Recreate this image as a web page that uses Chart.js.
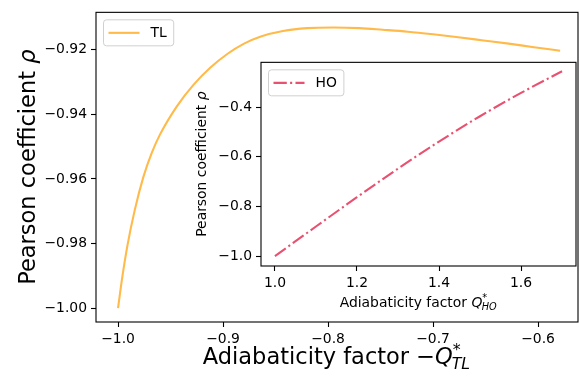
<!DOCTYPE html>
<html>
<head>
<meta charset="utf-8">
<script src="https://cdn.jsdelivr.net/npm/chart.js@4/dist/chart.umd.min.js"></script>
<style>
  html, body { margin: 0; padding: 0; background: #fff; }
  #wrap { position: relative; width: 579px; height: 381px; }
  #main { position: absolute; left: 0; top: 0; }
  #inset { position: absolute; left: 185px; top: 50px; }
</style>
</head>
<body>
<div id="wrap">
  <canvas id="main" width="579" height="381"></canvas>
  <canvas id="inset" width="394" height="265"></canvas>
</div>
<script>
// TL curve (main axes)
var tlX = [-1.0, -0.996, -0.991, -0.984, -0.976, -0.968, -0.960, -0.944, -0.928, -0.912, -0.896,
           -0.880, -0.864, -0.843, -0.820, -0.795, -0.770, -0.748, -0.724, -0.700, -0.676, -0.652,
           -0.628, -0.604, -0.579];
var tlY = [-1.0, -0.9905, -0.9805, -0.9695, -0.9595, -0.9520, -0.9462, -0.9375, -0.9308, -0.9255, -0.9213,
           -0.9181, -0.9159, -0.9142, -0.9133, -0.9131, -0.9133, -0.9138, -0.9144, -0.9152, -0.9161, -0.9171,
           -0.9181, -0.9192, -0.9203];
var mainXTicks = [-1.0, -0.9, -0.8, -0.7, -0.6];
var mainYTicks = [-1.00, -0.98, -0.96, -0.94, -0.92];

// HO curve (inset)
var hoX = [1.0, 1.1, 1.2, 1.3, 1.4, 1.5, 1.6, 1.7];
var hoY = [-1.0, -0.881, -0.763, -0.648, -0.539, -0.437, -0.343, -0.256];
var insetXTicks = [1.0, 1.2, 1.4, 1.6];
var insetYTicks = [-1.0, -0.8, -0.6, -0.4];

var FONT = "'DejaVu Sans', sans-serif";
Chart.defaults.font.family = FONT;
Chart.defaults.color = '#000';

function fmt(digits) {
    return function (v) {
        return (v < 0 ? '\u2212' : '') + Math.abs(v).toFixed(digits);
    };
}

/**
 * Measures and draws a title made of pieces, some italic, one may carry sup/sub
 */
function pieceWidth(ctx, p, size) {
    if (p.sup !== undefined) {
        ctx.font = (size * 0.7) + 'px ' + FONT;
        var a = ctx.measureText(p.sup).width;
        ctx.font = 'italic ' + (size * 0.7) + 'px ' + FONT;
        var b = ctx.measureText(p.sub).width;
        return Math.max(a, b);
    }
    ctx.font = (p.italic ? 'italic ' : '') + size + 'px ' + FONT;
    return ctx.measureText(p.t).width;
}

function drawPieces(ctx, parts, size, x, y) {
    ctx.textBaseline = 'alphabetic';
    ctx.textAlign = 'left';
    ctx.fillStyle = '#000';
    for (var p of parts) {
        var w = pieceWidth(ctx, p, size);
        if (p.sup !== undefined) {
            ctx.font = (size * 0.7) + 'px ' + FONT;
            ctx.fillText(p.sup, x, y - size * 0.42);
            ctx.font = 'italic ' + (size * 0.7) + 'px ' + FONT;
            ctx.fillText(p.sub, x - size * 0.05, y + size * 0.22);
        } else {
            ctx.font = (p.italic ? 'italic ' : '') + size + 'px ' + FONT;
            ctx.fillText(p.t, x, y);
        }
        x += w;
    }
}

var mathTitles = {
    id: 'mathTitles',
    afterDraw(chart, args, opts) {
        var ctx = chart.ctx, area = chart.chartArea;
        ctx.save();
        if (opts.x) {
            var total = 0;
            for (var p of opts.x.parts) total += pieceWidth(ctx, p, opts.x.size);
            var cx = (area.left + area.right) / 2;
            drawPieces(ctx, opts.x.parts, opts.x.size, cx - total / 2, opts.x.baseline);
        }
        if (opts.y) {
            var totalY = 0;
            for (var q of opts.y.parts) totalY += pieceWidth(ctx, q, opts.y.size);
            var cy = (area.top + area.bottom) / 2;
            ctx.translate(opts.y.baseline, cy);
            ctx.rotate(-Math.PI / 2);
            drawPieces(ctx, opts.y.parts, opts.y.size, -totalY / 2, 0);
        }
        ctx.restore();
    }
};

// white face, four spines and an in-axes legend box like matplotlib
var frame = {
    id: 'frame',
    beforeDatasetsDraw(chart) {
        var ctx = chart.ctx, a = chart.chartArea;
        ctx.save();
        ctx.fillStyle = '#fff';
        ctx.fillRect(a.left, a.top, a.right - a.left, a.bottom - a.top);
        ctx.restore();
    },
    afterDatasetsDraw(chart) {
        var ctx = chart.ctx, a = chart.chartArea;
        ctx.save();
        ctx.strokeStyle = '#000';
        ctx.lineWidth = 1.1;
        ctx.strokeRect(a.left, a.top, a.right - a.left, a.bottom - a.top);

        var ds = chart.data.datasets[0];
        var size = 13.9;
        ctx.font = size + 'px ' + FONT;
        var tw = ctx.measureText(ds.label).width;
        var x0 = a.left + 7.5, y0 = a.top + 7.5, w = 48 + tw + 6, h = 26;
        ctx.beginPath();
        ctx.roundRect(x0, y0, w, h, 3);
        ctx.fillStyle = 'rgba(255,255,255,0.8)';
        ctx.fill();
        ctx.strokeStyle = '#d0d0d0';
        ctx.lineWidth = 1;
        ctx.stroke();

        ctx.beginPath();
        ctx.setLineDash(ds.borderDash || []);
        ctx.strokeStyle = ds.borderColor;
        ctx.lineWidth = ds.borderWidth;
        ctx.moveTo(x0 + 5, y0 + h / 2);
        ctx.lineTo(x0 + 36, y0 + h / 2);
        ctx.stroke();
        ctx.setLineDash([]);

        ctx.fillStyle = '#000';
        ctx.textBaseline = 'middle';
        ctx.fillText(ds.label, x0 + 47, y0 + h / 2 + 1);
        ctx.restore();
    }
};

function axisOpts(min, max, tickVals, digits, fixFn) {
    return {
        type: 'linear',
        min: min,
        max: max,
        afterBuildTicks: function (scale) {
            scale.ticks = tickVals.map(v => ({ value: v }));
        },
        afterFit: fixFn,
        border: { display: false },
        grid: {
            drawOnChartArea: false,
            drawTicks: true,
            tickLength: 5,
            tickWidth: 1.1,
            tickColor: '#000'
        },
        ticks: {
            padding: 4,
            font: { size: 13.9 },
            color: '#000',
            callback: fmt(digits),
            autoSkip: false,
            maxRotation: 0
        }
    };
}

var mainChart = new Chart(document.getElementById('main'), {
    type: 'line',
    data: {
        datasets: [{
            label: 'TL',
            data: tlX.map((x, i) => ({ x: x, y: tlY[i] })),
            borderColor: '#ffba4a',
            borderWidth: 2.1,
            pointRadius: 0,
            cubicInterpolationMode: 'monotone',
            fill: false
        }]
    },
    options: {
        responsive: false,
        animation: false,
        devicePixelRatio: 1,
        layout: { padding: { left: 0, top: 7, right: 1, bottom: 0 } },
        plugins: {
            legend: { display: false },
            tooltip: { enabled: false },
            mathTitles: {
                x: {
                    size: 22.5,
                    baseline: 364,
                    parts: [{ t: 'Adiabaticity factor ' }, { t: '\u2212' }, { t: 'Q', italic: true }, { sup: '*', sub: 'TL' }]
                },
                y: {
                    size: 22.5,
                    baseline: 35,
                    parts: [{ t: 'Pearson coefficient ' }, { t: '\u03c1', italic: true }]
                }
            }
        },
        scales: {
            x: axisOpts(-1.021, -0.562, mainXTicks, 1, s => { s.height = 59; }),
            y: axisOpts(-1.0043, -0.9084, mainYTicks, 2, s => { s.width = 96; })
        }
    },
    plugins: [frame, mathTitles]
});

var insetChart = new Chart(document.getElementById('inset'), {
    type: 'line',
    data: {
        datasets: [{
            label: 'HO',
            data: hoX.map((x, i) => ({ x: x, y: hoY[i] })),
            borderColor: '#e8516f',
            borderWidth: 2.1,
            borderDash: [13.3, 3.3, 2.1, 3.3],
            borderCapStyle: 'butt',
            pointRadius: 0,
            cubicInterpolationMode: 'monotone',
            fill: false
        }]
    },
    options: {
        responsive: false,
        animation: false,
        devicePixelRatio: 1,
        layout: { padding: { left: 0, top: 11, right: 3, bottom: 0 } },
        plugins: {
            legend: { display: false },
            tooltip: { enabled: false },
            mathTitles: {
                x: {
                    size: 13.9,
                    baseline: 257,
                    parts: [{ t: 'Adiabaticity factor ' }, { t: 'Q', italic: true }, { sup: '*', sub: 'HO' }]
                },
                y: {
                    size: 13.9,
                    baseline: 21,
                    parts: [{ t: 'Pearson coefficient ' }, { t: '\u03c1', italic: true }]
                }
            }
        },
        scales: {
            x: axisOpts(0.966, 1.734, insetXTicks, 1, s => { s.height = 49; }),
            y: axisOpts(-1.04, -0.22, insetYTicks, 1, s => { s.width = 76; })
        }
    },
    plugins: [frame, mathTitles]
});
</script>
</body>
</html>
